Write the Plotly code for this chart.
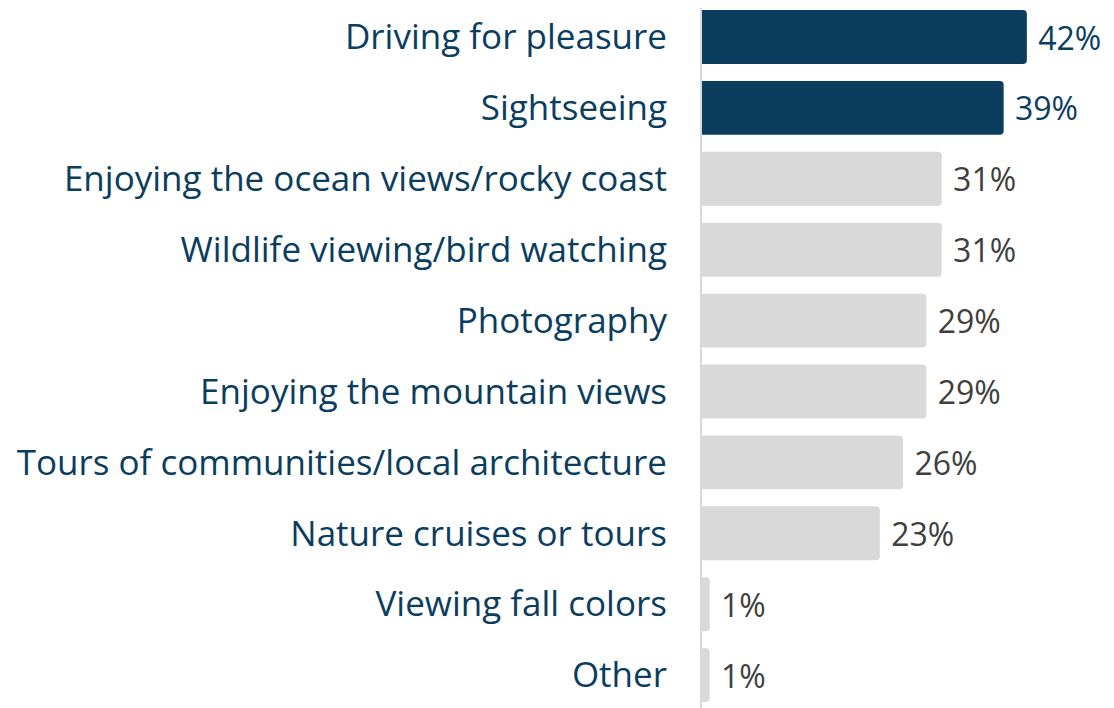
import plotly.graph_objects as go

# activities, top to bottom as drawn
categories = [
    "Driving for pleasure",
    "Sightseeing",
    "Enjoying the ocean views/rocky coast",
    "Wildlife viewing/bird watching",
    "Photography",
    "Enjoying the mountain views",
    "Tours of communities/local architecture",
    "Nature cruises or tours",
    "Viewing fall colors",
    "Other",
]
shares = [42, 39, 31, 31, 29, 29, 26, 23, 1, 1]
value_labels = ["42%", "39%", "31%", "31%", "29%", "29%", "26%", "23%", "1%", "1%"]

NAVY = "#0B3D5F"
GREY = "#D9D9D9"
TEXT_GREY = "#3F3F3F"
FONT = "Open Sans"

# the two leading activities are highlighted
bar_colors = [NAVY if i < 2 else GREY for i in range(len(shares))]
text_colors = [NAVY if i < 2 else TEXT_GREY for i in range(len(shares))]

fig = go.Figure(
    go.Bar(
        x=shares,
        y=categories,
        orientation="h",
        marker=dict(color=bar_colors, cornerradius=4, line=dict(width=0)),
        text=value_labels,
        texttemplate="\u00a0%{text}",
        textposition="outside",
        textfont=dict(family=FONT, size=32, color=text_colors),
        cliponaxis=False,
        hoverinfo="skip",
    )
)

# page body has an 8px margin, so the plot area is shifted to compensate
fig.update_xaxes(range=[0, 54.3], visible=False, automargin=False)
fig.update_yaxes(
    range=[9.577, -0.409],
    automargin=False,
    showline=True,
    linecolor=GREY,
    linewidth=2,
    ticks="",
    ticklabelstandoff=26,
    tickfont=dict(family=FONT, size=35, color=NAVY),
)
fig.update_layout(
    width=1114,
    height=708,
    margin=dict(l=694, r=0, t=0, b=0),
    bargap=0.24,
    plot_bgcolor="white",
    paper_bgcolor="white",
    showlegend=False,
)

fig.write_html("out.html")
